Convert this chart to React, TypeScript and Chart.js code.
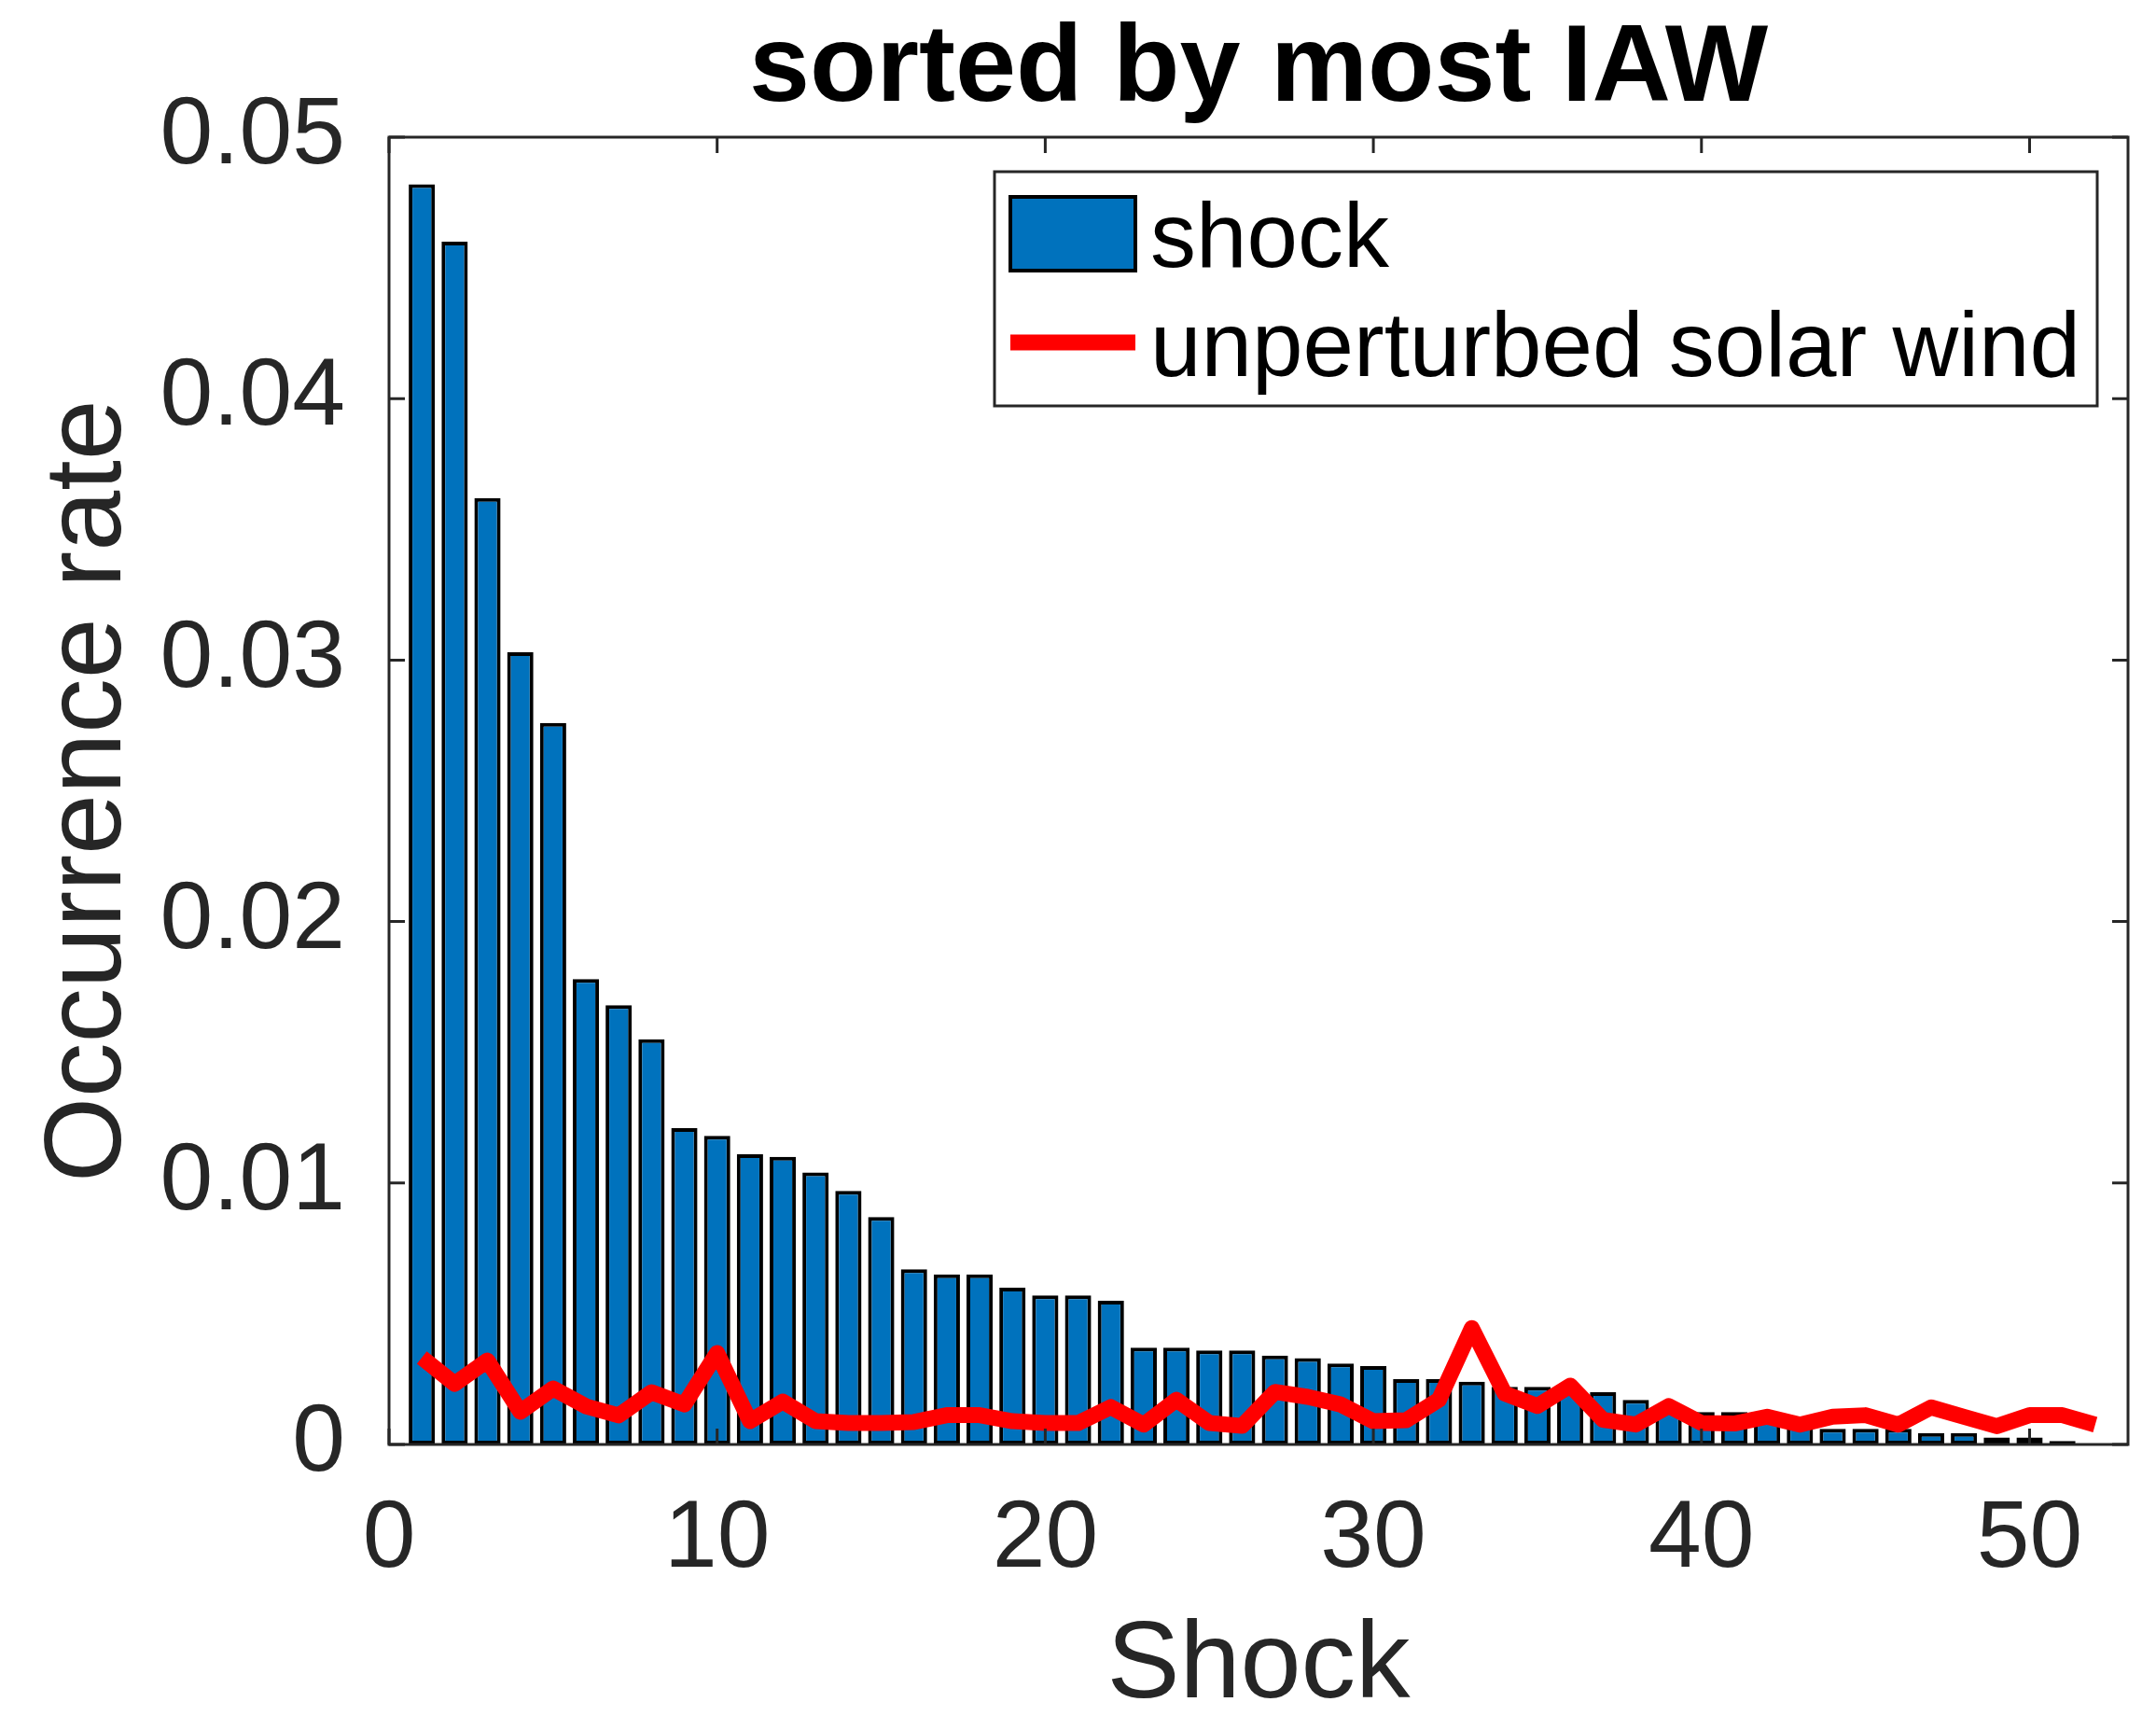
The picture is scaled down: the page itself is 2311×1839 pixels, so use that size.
import { useEffect, useRef } from 'react';
import { Chart, registerables } from 'chart.js';

Chart.register(...registerables);

// Occurrence rate per shock, shocks sorted by most IAW
const shockRate: number[] = [
  0.0482, 0.0460, 0.0362, 0.0303, 0.0276, 0.0178, 0.0168, 0.0155, 0.0121, 0.0118,
  0.0111, 0.0110, 0.0104, 0.0097, 0.0087, 0.0067, 0.0065, 0.0065, 0.0060, 0.0057,
  0.0057, 0.0055, 0.0037, 0.0037, 0.0036, 0.0036, 0.0034, 0.0033, 0.0031, 0.0030,
  0.0025, 0.0025, 0.0024, 0.0022, 0.0022, 0.0020, 0.0020, 0.0017, 0.0014, 0.00124,
  0.00124, 0.00124, 0.0010, 0.0006, 0.0006, 0.0006, 0.00044, 0.00044, 0.00027, 0.00027,
  0.00013, 0,
];

// Occurrence rate in the unperturbed solar wind, same shock order
const solarWindRate: number[] = [
  0.00332, 0.00232, 0.00321, 0.00125, 0.00214, 0.00146, 0.00111, 0.00200, 0.00153, 0.00350,
  0.00089, 0.00164, 0.00089, 0.00082, 0.00082, 0.00086, 0.00112, 0.00112, 0.00089, 0.00082,
  0.00082, 0.00143, 0.00076, 0.00171, 0.00082, 0.00071, 0.00201, 0.00182, 0.00153, 0.00089,
  0.00093, 0.00171, 0.00445, 0.00195, 0.00147, 0.00225, 0.00094, 0.00076, 0.00147, 0.00082,
  0.00080, 0.00106, 0.00076, 0.00106, 0.00112, 0.00076, 0.00142, 0.00106, 0.00070, 0.00112,
  0.00112, 0.00076,
];

const shockIndex: number[] = shockRate.map((_, i) => i + 1);

const xTickValues: number[] = [0, 10, 20, 30, 40, 50];
const xTickLabels: string[] = ['0', '10', '20', '30', '40', '50'];
const yTickValues: number[] = [0, 0.01, 0.02, 0.03, 0.04, 0.05];
const yTickLabels: string[] = ['0', '0.01', '0.02', '0.03', '0.04', '0.05'];

const X_RANGE: [number, number] = [0, 53];
const Y_RANGE: [number, number] = [0, 0.05];

const TITLE = 'sorted by most IAW';
const X_LABEL = 'Shock';
const Y_LABEL = 'Occurrence rate';
const SERIES_SHOCK = 'shock';
const SERIES_SW = 'unperturbed solar wind';

const W = 2311;
const H = 1839;
const FONT = '"Liberation Sans", Arial, Helvetica, sans-serif';
const AXIS_COLOR = '#262626';
const BAR_COLOR = '#0072BD';
const LINE_COLOR = '#FF0000';
const TICK_LEN = 17;

// Box, inward tick marks, title and in-axes legend
const framePlugin = {
  id: 'matlabFrame',
  afterDatasetsDraw(chart: any) {
    const { ctx, chartArea: a, scales } = chart;
    const x = scales.x;
    const y = scales.y;
    ctx.save();
    ctx.strokeStyle = AXIS_COLOR;
    ctx.lineWidth = 3;
    ctx.lineCap = 'butt';
    ctx.beginPath();
    for (const v of xTickValues) {
      const px = x.getPixelForValue(v);
      ctx.moveTo(px, a.bottom);
      ctx.lineTo(px, a.bottom - TICK_LEN);
      ctx.moveTo(px, a.top);
      ctx.lineTo(px, a.top + TICK_LEN);
    }
    for (const v of yTickValues) {
      const py = y.getPixelForValue(v);
      ctx.moveTo(a.left, py);
      ctx.lineTo(a.left + TICK_LEN, py);
      ctx.moveTo(a.right, py);
      ctx.lineTo(a.right - TICK_LEN, py);
    }
    ctx.stroke();
    ctx.strokeRect(a.left, a.top, a.right - a.left, a.bottom - a.top);
    ctx.restore();
  },
  afterDraw(chart: any) {
    const { ctx, chartArea: a } = chart;
    const ds = chart.data.datasets;
    ctx.save();

    // title
    ctx.fillStyle = '#000';
    ctx.font = `bold 117px ${FONT}`;
    ctx.textAlign = 'center';
    ctx.textBaseline = 'alphabetic';
    ctx.fillText(TITLE, (a.left + a.right) / 2, a.top - 39);

    // legend
    const bx = a.right - 33 - 1182;
    const by = a.top + 37;
    const bw = 1182;
    const bh = 251;
    ctx.fillStyle = '#fff';
    ctx.fillRect(bx, by, bw, bh);
    ctx.strokeStyle = AXIS_COLOR;
    ctx.lineWidth = 3;
    ctx.strokeRect(bx, by, bw, bh);

    const barDs = ds.find((d: any) => d.type === 'bar');
    const lineDs = ds.find((d: any) => d.type === 'line');

    ctx.fillStyle = barDs.backgroundColor;
    ctx.fillRect(bx + 17, by + 27, 134, 79);
    ctx.strokeStyle = barDs.borderColor;
    ctx.lineWidth = 4;
    ctx.strokeRect(bx + 17, by + 27, 134, 79);

    ctx.strokeStyle = lineDs.borderColor;
    ctx.lineWidth = lineDs.borderWidth;
    ctx.beginPath();
    ctx.moveTo(bx + 17, by + 183);
    ctx.lineTo(bx + 151, by + 183);
    ctx.stroke();

    ctx.fillStyle = '#000';
    ctx.font = `98px ${FONT}`;
    ctx.textAlign = 'left';
    ctx.textBaseline = 'alphabetic';
    ctx.fillText(barDs.label, bx + 167, by + 102);
    ctx.fillText(lineDs.label, bx + 167, by + 219);

    ctx.restore();
  },
};

export default function App() {
  const ref = useRef<HTMLCanvasElement>(null);

  useEffect(() => {
    if (!ref.current) return;
    const chart = new Chart(ref.current, {
      type: 'bar',
      data: {
        datasets: [
          {
            type: 'line',
            label: SERIES_SW,
            data: solarWindRate.map((v, i) => ({ x: shockIndex[i], y: v })),
            borderColor: LINE_COLOR,
            backgroundColor: LINE_COLOR,
            borderWidth: 17,
            borderJoinStyle: 'round',
            borderCapStyle: 'butt',
            pointRadius: 0,
            tension: 0,
            fill: false,
            order: 0,
          } as any,
          {
            type: 'bar',
            label: SERIES_SHOCK,
            data: shockRate.map((v, i) => ({ x: shockIndex[i], y: v })),
            backgroundColor: BAR_COLOR,
            borderColor: '#000000',
            borderWidth: 4,
            borderSkipped: false,
            barPercentage: 0.8,
            categoryPercentage: 1.0,
            order: 1,
          } as any,
        ],
      },
      options: {
        responsive: false,
        animation: false,
        events: [],
        layout: { padding: { top: 147, right: 30, left: 0, bottom: 0 } },
        plugins: {
          legend: { display: false },
          title: { display: false },
          tooltip: { enabled: false },
        },
        scales: {
          x: {
            type: 'linear',
            min: X_RANGE[0],
            max: X_RANGE[1],
            offset: false,
            grid: { display: false, drawTicks: false },
            border: { display: false },
            afterBuildTicks: (s: any) => {
              s.ticks = xTickValues.map((v) => ({ value: v }));
            },
            afterFit: (s: any) => {
              s.height = 291;
            },
            ticks: {
              autoSkip: false,
              maxRotation: 0,
              padding: 42,
              color: AXIS_COLOR,
              font: { family: FONT, size: 102, lineHeight: 1.2 },
              callback: (_v: any, i: number) => xTickLabels[i],
            },
            title: {
              display: true,
              text: X_LABEL,
              color: AXIS_COLOR,
              padding: { top: 0, bottom: 0 },
              font: { family: FONT, size: 117, lineHeight: 0.89 },
            },
          },
          y: {
            type: 'linear',
            min: Y_RANGE[0],
            max: Y_RANGE[1],
            grid: { display: false, drawTicks: false },
            border: { display: false },
            afterBuildTicks: (s: any) => {
              s.ticks = yTickValues.map((v) => ({ value: v }));
            },
            afterFit: (s: any) => {
              s.width = 417;
            },
            ticks: {
              autoSkip: false,
              padding: 47,
              color: AXIS_COLOR,
              font: { family: FONT, size: 102, lineHeight: 1.2 },
              callback: (_v: any, i: number) => yTickLabels[i],
            },
            title: {
              display: true,
              text: Y_LABEL,
              color: AXIS_COLOR,
              padding: { top: 27, bottom: 0 },
              font: { family: FONT, size: 117, lineHeight: 1.2 },
            },
          },
        },
      },
      plugins: [framePlugin],
    } as any);
    return () => chart.destroy();
  }, []);

  return (
    <div style={{ position: 'absolute', left: 0, top: 0, width: W, height: H, background: '#fff' }}>
      <canvas ref={ref} width={W} height={H} style={{ display: 'block', width: W, height: H }} />
    </div>
  );
}
